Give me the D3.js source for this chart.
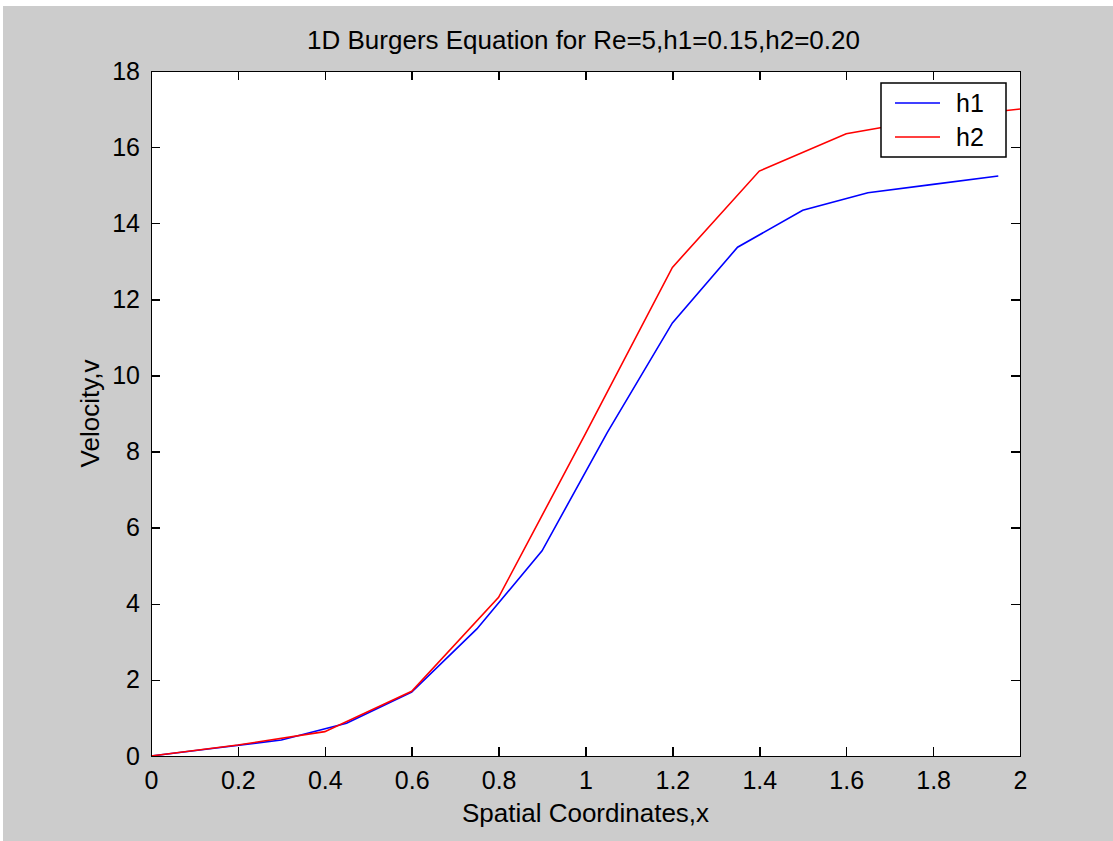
<!DOCTYPE html>
<meta charset="utf-8">
<style>
    body { margin: 0; background: #fff; }
    text { font-family: "Liberation Sans", Arial, sans-serif; fill: #000; }
    .axis path, .axis line { stroke: #000; stroke-width: 1.5; shape-rendering: crispEdges; }
</style>
<body>
<script src="https://cdn.jsdelivr.net/npm/d3@7"></script>
<script>

    // step h1 = 0.15
    var xH1 = [0, 0.15, 0.3, 0.45, 0.6, 0.75, 0.9, 1.05, 1.2, 1.35, 1.5, 1.65, 1.8, 1.95];
    var vH1 = [0, 0.21, 0.42, 0.86, 1.68, 3.34, 5.39, 8.5, 11.38, 13.37, 14.34, 14.8, 15.02, 15.24];
    // step h2 = 0.20
    var xH2 = [0, 0.2, 0.4, 0.6, 0.8, 1.0, 1.2, 1.4, 1.6, 1.8, 2.0];
    var vH2 = [0, 0.29, 0.64, 1.7, 4.17, 8.47, 12.84, 15.37, 16.35, 16.75, 17.0];

    var xTicks = [0, 0.2, 0.4, 0.6, 0.8, 1, 1.2, 1.4, 1.6, 1.8, 2];
    var yTicks = [0, 2, 4, 6, 8, 10, 12, 14, 16, 18];
    var seriesNames = ["h1", "h2"];
    var seriesColors = ["#0000ff", "#ff0000"];

    var W = 1113, H = 841;
    var margin = { top: 71, right: 93, bottom: 85, left: 151 },
        width = W - margin.left - margin.right,
        height = H - margin.top - margin.bottom;

    var x = d3.scaleLinear().domain([0, 2]).range([0, width]);
    var y = d3.scaleLinear().domain([0, 18]).range([height, 0]);

    var svg = d3.select("body").append("svg")
        .attr("width", W)
        .attr("height", H);

    // figure background
    svg.append("rect").attr("x", 3).attr("y", 6)
        .attr("width", W - 3).attr("height", H - 6)
        .attr("fill", "#cccccc");

    var g = svg.append("g")
        .attr("transform", "translate(" + margin.left + "," + margin.top + ")");

    g.append("rect").attr("width", width).attr("height", height).attr("fill", "#fff");

    var series = [
        xH1.map(function (d, i) { return { x: d, y: vH1[i] }; }),
        xH2.map(function (d, i) { return { x: d, y: vH2[i] }; })
    ];

    var line = d3.line()
        .x(function (d) { return x(d.x); })
        .y(function (d) { return y(d.y); });

    g.selectAll(".series")
        .data(series)
        .enter().append("path")
        .attr("class", "series")
        .attr("fill", "none")
        .attr("stroke", function (d, i) { return seriesColors[i]; })
        .attr("stroke-width", 1.6)
        .attr("d", line);

    var fmt = function (d) { return String(d); };

    // bottom + left axes with labels, ticks pointing inward
    var xAxis = g.append("g").attr("class", "axis")
        .attr("transform", "translate(0," + height + ")")
        .call(d3.axisBottom(x).tickValues(xTicks).tickFormat(fmt).tickSizeInner(-9).tickSizeOuter(0).tickPadding(15));
    var yAxis = g.append("g").attr("class", "axis")
        .call(d3.axisLeft(y).tickValues(yTicks).tickFormat(fmt).tickSizeInner(-9).tickSizeOuter(0).tickPadding(11));
    // top + right axes, ticks only
    g.append("g").attr("class", "axis")
        .call(d3.axisTop(x).tickValues(xTicks).tickFormat("").tickSizeInner(-9).tickSizeOuter(0));
    g.append("g").attr("class", "axis")
        .attr("transform", "translate(" + width + ",0)")
        .call(d3.axisRight(y).tickValues(yTicks).tickFormat("").tickSizeInner(-9).tickSizeOuter(0));

    g.selectAll(".axis text").style("font-size", "25px").style("font-family", "'Liberation Sans', Arial, sans-serif");
    xAxis.selectAll("text").attr("dy", "0.71em");

    // title and axis labels
    svg.append("text")
        .attr("x", margin.left + width / 2 - 2).attr("y", 49)
        .attr("text-anchor", "middle")
        .style("font-size", "26px")
        .text("1D Burgers Equation for Re=5,h1=0.15,h2=0.20");

    svg.append("text")
        .attr("x", margin.left + width / 2).attr("y", 822)
        .attr("text-anchor", "middle")
        .style("font-size", "26px")
        .text("Spatial Coordinates,x");

    svg.append("text")
        .attr("transform", "translate(99," + (margin.top + height / 2) + ") rotate(-90)")
        .attr("text-anchor", "middle")
        .style("font-size", "26px")
        .text("Velocity,v");

    // legend
    var lg = g.append("g").attr("transform", "translate(" + (881 - margin.left) + "," + (83 - margin.top) + ")");
    lg.append("rect").attr("width", 125).attr("height", 74)
        .attr("fill", "#fff").attr("stroke", "#000").attr("stroke-width", 1.5);
    seriesNames.forEach(function (name, i) {
        var yy = 20 + i * 34;
        lg.append("line").attr("x1", 14).attr("x2", 59).attr("y1", yy).attr("y2", yy)
            .attr("stroke", seriesColors[i]).attr("stroke-width", 1.6);
        lg.append("text").attr("x", 75).attr("y", yy).attr("dy", "0.35em")
            .style("font-size", "25px").text(name);
    });

</script>
</body>
